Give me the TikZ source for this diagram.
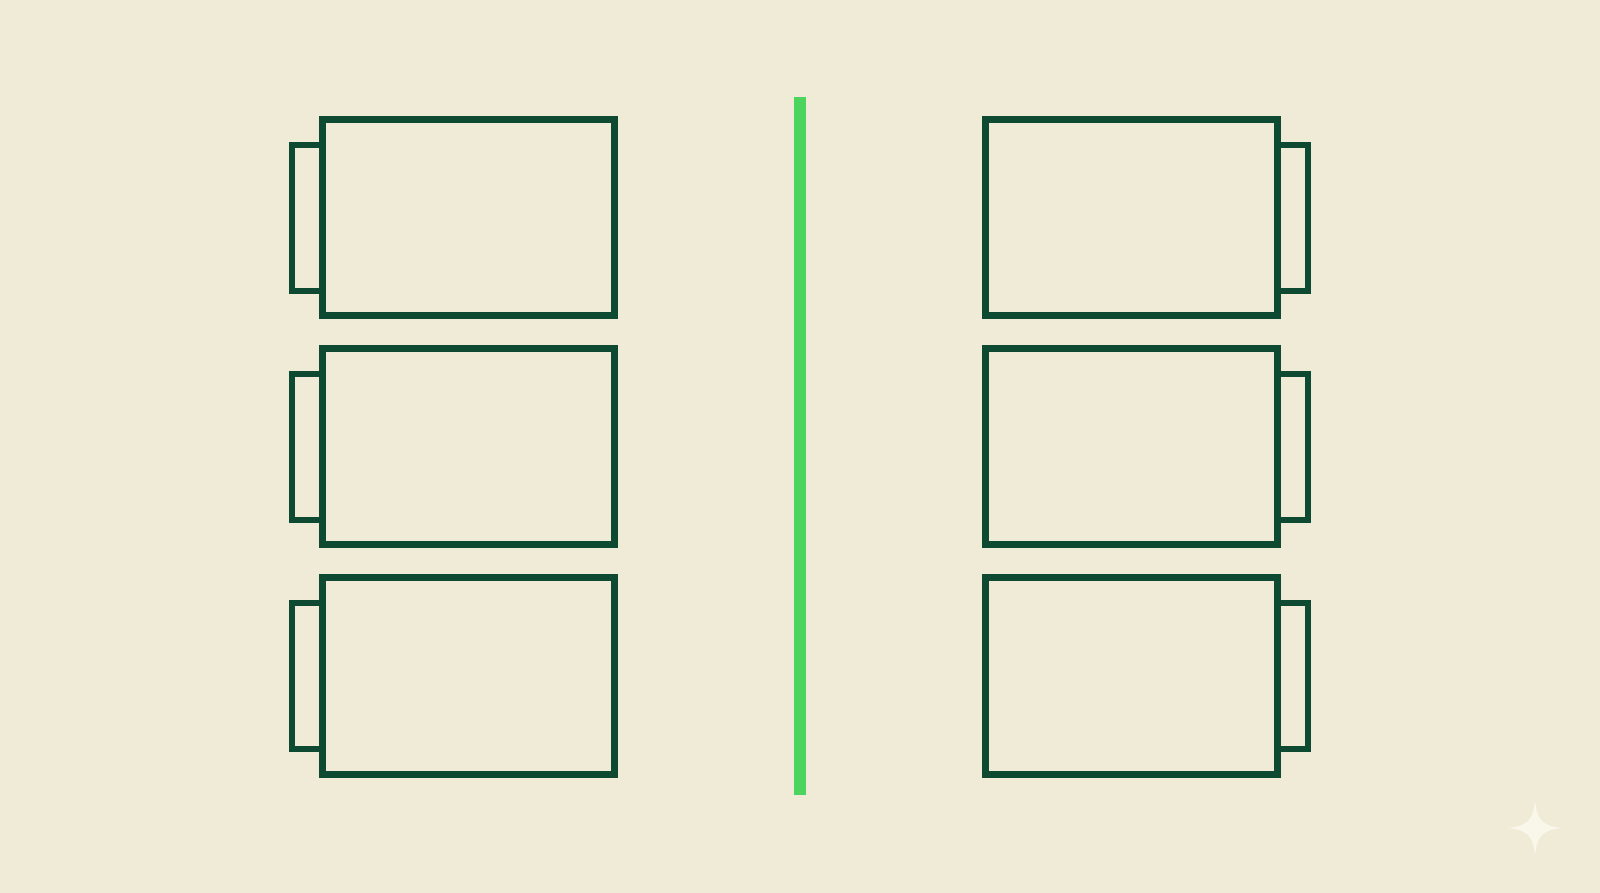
\documentclass[tikz,border=0pt]{standalone}
\usepackage{tikz}
\definecolor{paper}{RGB}{240,235,214}
\definecolor{darkgreen}{RGB}{14,74,50}
\definecolor{lightgreen}{RGB}{76,212,94}
\definecolor{sparkle}{RGB}{249,246,234}

\begin{document}
\begin{tikzpicture}[
box/.style={rectangle, draw=darkgreen, line width=0.07cm, inner sep=0pt, minimum width=2.92cm, minimum height=1.96cm},
tab/.style={rectangle, draw=darkgreen, line width=0.065cm, inner sep=0pt, minimum width=0.30cm, minimum height=1.46cm}
]
  \fill[paper] (0,0) rectangle (16,-8.93);
  \useasboundingbox (0,0) rectangle (16,-8.93);

  \node[tab] (a) at (3.07,-2.18) {};
  \node[tab] (b) at (3.07,-4.47) {};
  \node[tab] (c) at (3.07,-6.76) {};
  \node[box] (A) at (4.68,-2.18) {};
  \node[box] (B) at (4.68,-4.47) {};
  \node[box] (C) at (4.68,-6.76) {};

  \node[tab] (d) at (12.93,-2.18) {};
  \node[tab] (e) at (12.93,-4.47) {};
  \node[tab] (f) at (12.93,-6.76) {};
  \node[box] (D) at (11.315,-2.18) {};
  \node[box] (E) at (11.315,-4.47) {};
  \node[box] (F) at (11.315,-6.76) {};

  \coordinate (top) at (8,-0.97);
  \coordinate (bottom) at (8,-7.95);
  \draw[lightgreen, line width=0.12cm] (top) -- (bottom);

  \fill[sparkle] (15.35,-8.00) .. controls (15.37,-8.20) and (15.42,-8.26) .. (15.62,-8.28)
        .. controls (15.42,-8.30) and (15.37,-8.36) .. (15.35,-8.56)
        .. controls (15.33,-8.36) and (15.28,-8.30) .. (15.08,-8.28)
        .. controls (15.28,-8.26) and (15.33,-8.20) .. (15.35,-8.00);
\end{tikzpicture}
\end{document}
